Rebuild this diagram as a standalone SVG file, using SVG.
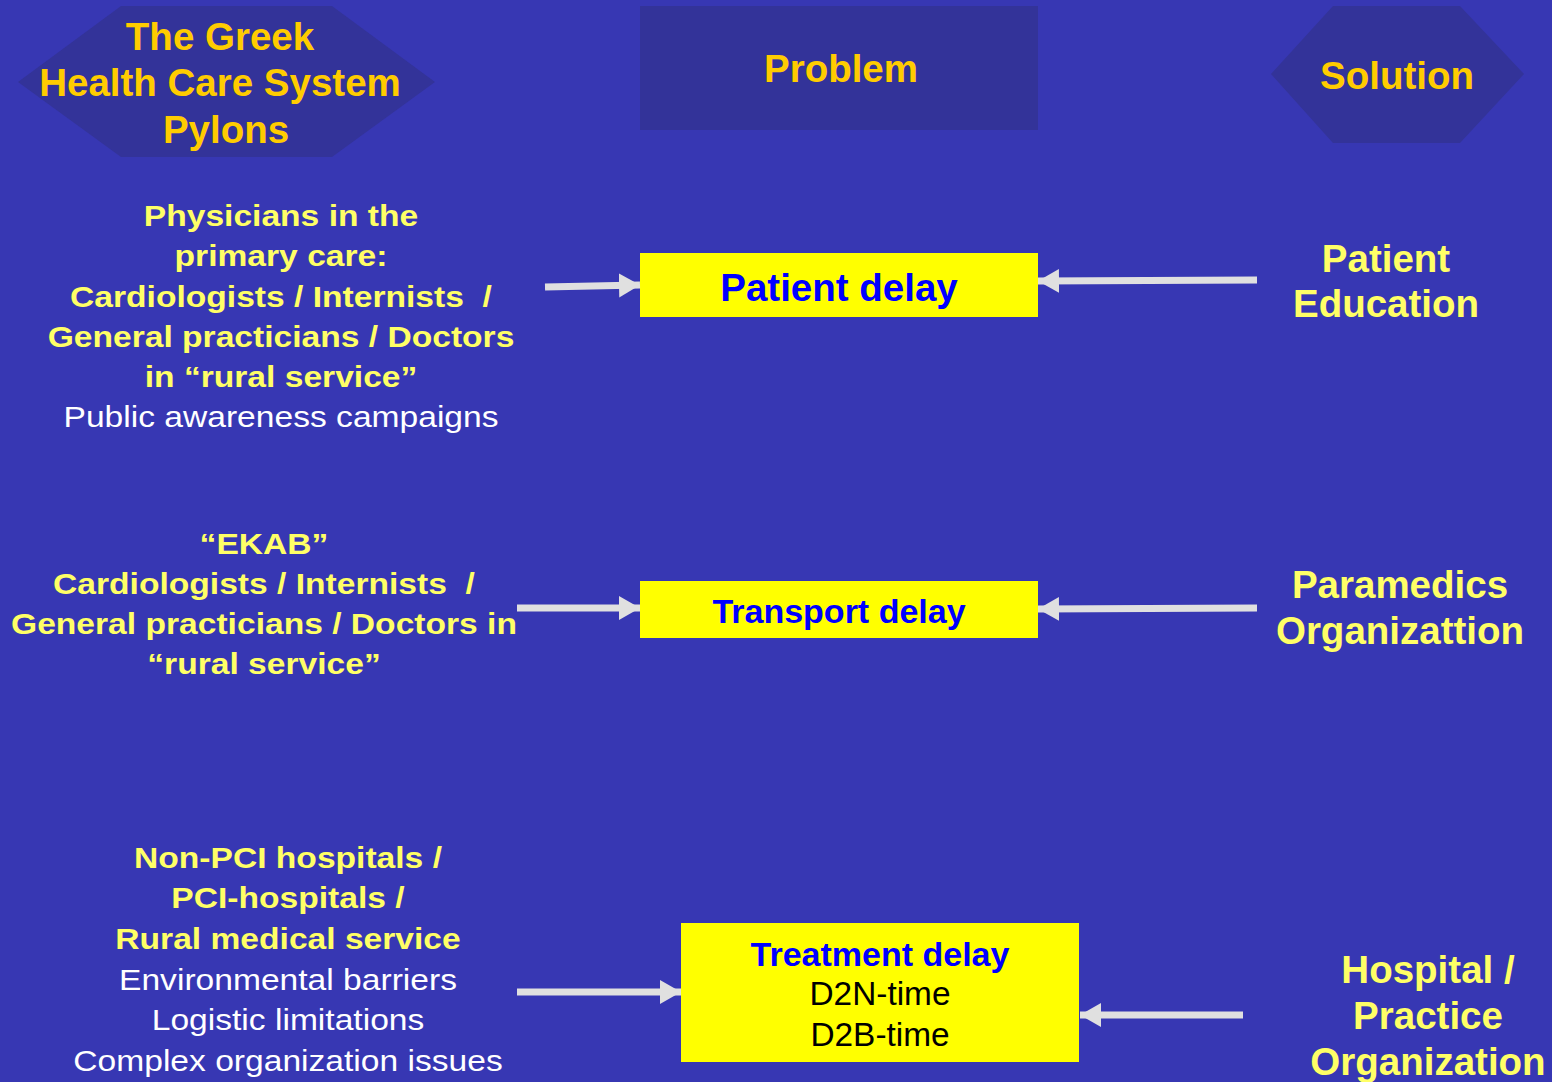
<svg xmlns="http://www.w3.org/2000/svg" width="1552" height="1082" viewBox="0 0 1552 1082">
<defs>
<style>
.hdr{fill:#333399}
.ht{font-family:"Liberation Sans",Arial,sans-serif;font-weight:bold;fill:#FFCC00;text-anchor:middle;font-size:38.5px}
.yt{font-family:"Liberation Sans",Arial,sans-serif;font-weight:bold;fill:#FFFF66;text-anchor:middle}
.wt{font-family:"Liberation Sans",Arial,sans-serif;fill:#FFFFFF;text-anchor:middle}
.box{fill:#FFFF00}
.bt{font-family:"Liberation Sans",Arial,sans-serif;font-weight:bold;fill:#0000FF;text-anchor:middle}
.kt{font-family:"Liberation Sans",Arial,sans-serif;fill:#000000;text-anchor:middle}
.arr{stroke:#E0E0E0;stroke-width:7;fill:none}
.lt{font-size:30px}
.rt{font-size:38.5px}
</style>
<marker id="ah" markerUnits="userSpaceOnUse" markerWidth="24" markerHeight="26" refX="21" refY="12" orient="auto">
<path d="M0,0 L21,12 L0,24 Z" fill="#E0E0E0"/>
</marker>
</defs>
<rect width="1552" height="1082" fill="#3737B3"/>
<g id="header-pylons">
<polygon class="hdr" points="18,82 121,6 332,6 435,82 332,157 121,157"/>
<text class="ht" x="220" y="50">The Greek</text>
<text class="ht" x="220" y="96">Health Care System</text>
<text class="ht" x="226" y="143">Pylons</text>
</g>
<g id="header-problem">
<rect class="hdr" x="640" y="6" width="398" height="124"/>
<text class="ht" x="841" y="82">Problem</text>
</g>
<g id="header-solution">
<polygon class="hdr" points="1271,74 1333,6 1460,6 1524,74 1460,143 1333,143"/>
<text class="ht" x="1397" y="89">Solution</text>
</g>
<g id="pylon-1" transform="translate(281,0) scale(1.12,1)">
<text class="yt lt" x="0" y="226">Physicians in the</text>
<text class="yt lt" x="0" y="266">primary care:</text>
<text class="yt lt" x="0" y="307" xml:space="preserve">Cardiologists / Internists  /</text>
<text class="yt lt" x="0" y="347">General practicians / Doctors</text>
<text class="yt lt" x="0" y="387">in “rural service”</text>
<text class="wt lt" x="0" y="427">Public awareness campaigns</text>
</g>
<g id="pylon-2" transform="translate(264,0) scale(1.12,1)">
<text class="yt lt" x="0" y="554">“EKAB”</text>
<text class="yt lt" x="0" y="594" xml:space="preserve">Cardiologists / Internists  /</text>
<text class="yt lt" x="0" y="634">General practicians / Doctors in</text>
<text class="yt lt" x="0" y="674">“rural service”</text>
</g>
<g id="pylon-3" transform="translate(288,0) scale(1.12,1)">
<text class="yt lt" x="0" y="868">Non-PCI hospitals /</text>
<text class="yt lt" x="0" y="908">PCI-hospitals /</text>
<text class="yt lt" x="0" y="949">Rural medical service</text>
<text class="wt lt" x="0" y="990">Environmental barriers</text>
<text class="wt lt" x="0" y="1030">Logistic limitations</text>
<text class="wt lt" x="0" y="1071">Complex organization issues</text>
</g>
<g id="problem-patient-delay">
<rect class="box" x="640" y="253" width="398" height="64"/>
<text class="bt" font-size="38.5" x="839" y="301">Patient delay</text>
</g>
<g id="problem-transport-delay">
<rect class="box" x="640" y="581" width="398" height="57"/>
<text class="bt" font-size="34" x="839" y="623">Transport delay</text>
</g>
<g id="problem-treatment-delay">
<rect class="box" x="681" y="923" width="398" height="139"/>
<text class="bt" font-size="34" x="880" y="966">Treatment delay</text>
<text class="kt" font-size="33.4" x="880" y="1005">D2N-time</text>
<text class="kt" font-size="33.4" x="880" y="1046">D2B-time</text>
</g>
<g id="solution-1">
<text class="yt rt" x="1386" y="272">Patient</text>
<text class="yt rt" x="1386" y="317">Education</text>
</g>
<g id="solution-2">
<text class="yt rt" x="1400" y="598">Paramedics</text>
<text class="yt rt" x="1400" y="644">Organizattion</text>
</g>
<g id="solution-3">
<text class="yt rt" x="1428" y="983">Hospital /</text>
<text class="yt rt" x="1428" y="1029">Practice</text>
<text class="yt rt" x="1428" y="1075">Organization</text>
</g>
<g id="connectors">
<line class="arr" x1="545" y1="287" x2="640" y2="285" marker-end="url(#ah)"/>
<line class="arr" x1="1257" y1="280" x2="1038" y2="281" marker-end="url(#ah)"/>
<line class="arr" x1="517" y1="608" x2="640" y2="608" marker-end="url(#ah)"/>
<line class="arr" x1="1257" y1="608" x2="1038" y2="609" marker-end="url(#ah)"/>
<line class="arr" x1="517" y1="992" x2="681" y2="992" marker-end="url(#ah)"/>
<line class="arr" x1="1243" y1="1015" x2="1080" y2="1015" marker-end="url(#ah)"/>
</g>
</svg>
